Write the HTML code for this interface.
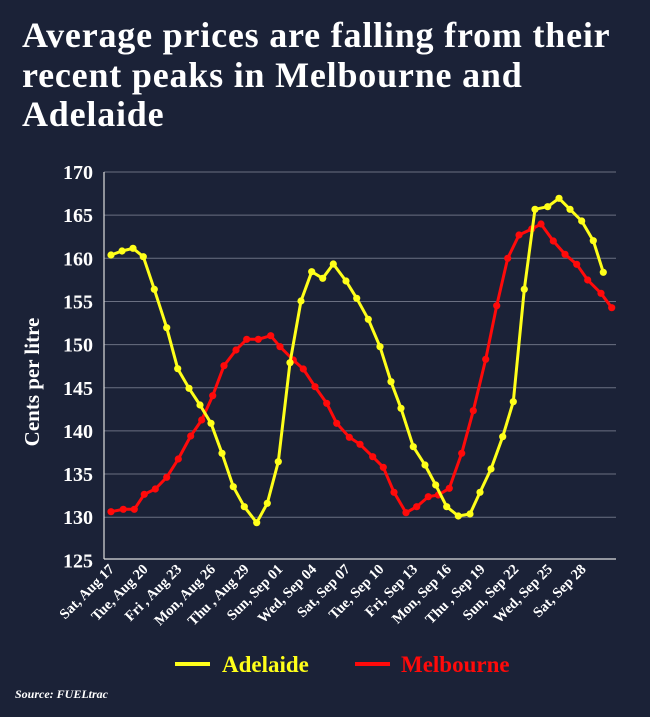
<!DOCTYPE html>
<html><head><meta charset="utf-8"><style>
html,body{margin:0;padding:0;background:#1b2237;}
body{width:650px;height:717px;overflow:hidden;position:relative;font-family:"Liberation Serif",serif;color:#fff;}
h1{position:absolute;left:22px;top:16px;margin:0;font-size:36px;line-height:39.5px;font-weight:bold;letter-spacing:0.8px;width:620px;}
svg{position:absolute;left:0;top:0;}
</style></head><body>
<h1>Average prices are falling from their<br>recent peaks in Melbourne and<br>Adelaide</h1>
<svg id="s" width="650" height="717" xmlns="http://www.w3.org/2000/svg" font-family="Liberation Serif, serif" font-weight="bold"></svg>
<script>
var s=document.getElementById('s');var h='';
function Y(v){return 172+(170-v)*8.63;}
for(var v=125;v<=170;v+=5){var y=Y(v);
 if(v>125)h+='<line x1="104" x2="616" y1="'+y+'" y2="'+y+'" stroke="#6b7082" stroke-width="1"/>';
 h+='<text x="93" y="'+(y+7)+'" fill="#fff" font-size="20" text-anchor="end">'+v+'</text>';}
h+='<line x1="104" x2="104" y1="172" y2="559" stroke="#ddd" stroke-width="1.2"/>';
h+='<line x1="104" x2="616" y1="559" y2="559" stroke="#ddd" stroke-width="1.2"/>';
h+='<text transform="translate(39,382) rotate(-90)" fill="#fff" font-size="21" text-anchor="middle">Cents per litre</text>';
var labs=["Sat, Aug 17","Tue, Aug 20","Fri , Aug 23","Mon, Aug 26","Thu , Aug 29","Sun, Sep 01","Wed, Sep 04","Sat, Sep 07","Tue, Sep 10","Fri, Sep 13","Mon, Sep 16","Thu , Sep 19","Sun, Sep 22","Wed, Sep 25","Sat, Sep 28"];
for(var i=0;i<labs.length;i++){var x=115+i*33.7;
 h+='<text transform="translate('+x+',570) rotate(-45)" fill="#fff" font-size="14.5" text-anchor="end">'+labs[i]+'</text>';}
var A1=[[333,285],[366,273],[399,265],[430,290],[463,388],[500,503],[533,626],[567,685],[600,735],[633,790],[666,880],[700,980],[733,1040],[770,1088],[802,1030],[835,905],[870,608],[903,423],[935,335],[968,355]];
var A2=[[40,312],[78,363],[110,415],[145,478],[180,560],[213,665],[243,745],[280,860],[315,915],[347,975],[380,1040],[415,1068],[450,1062],[480,997],[513,927],[548,830],[580,725],[613,388],[645,148],[683,140],[717,115],[750,148],[785,183],[820,242],[850,337]];
var M1=[[333,1055],[370,1048],[403,1048],[433,1003],[466,987],[500,952],[535,897],[572,828],[605,780],[638,707],[672,617],[708,570],[740,538],[775,538],[812,527],[840,560],[880,600],[910,627],[945,680],[980,730]];
var M2=[[50,790],[88,832],[120,853],[158,890],[190,922],[222,997],[258,1058],[290,1040],[325,1010],[355,1005],[388,985],[425,880],[460,752],[497,598],[530,437],[563,295],[597,225],[635,207],[663,192],[700,243],[735,283],[770,313],[803,360],[843,400],[875,443]];
function pts(a,b){var r=[];a.forEach(function(p){r.push([p[0]/3,160+p[1]/3]);});b.forEach(function(p){r.push([320+p[0]/3,160+p[1]/3]);});return r;}
function series(p,c){var d=p.map(function(q){return q[0].toFixed(1)+','+q[1].toFixed(1);}).join(' ');
 var o='<polyline points="'+d+'" fill="none" stroke="'+c+'" stroke-width="3" stroke-linejoin="round"/>';
 p.forEach(function(q){o+='<circle cx="'+q[0].toFixed(1)+'" cy="'+q[1].toFixed(1)+'" r="3.6" fill="'+c+'"/>';});return o;}
h+=series(pts(M1,M2),'#ff0a0a');
h+=series(pts(A1,A2),'#ffff1a');
h+='<line x1="175" x2="210" y1="664" y2="664" stroke="#ffff1a" stroke-width="4"/>';
h+='<text x="222" y="672" fill="#ffff1a" font-size="23">Adelaide</text>';
h+='<line x1="355" x2="390" y1="664" y2="664" stroke="#ff0a0a" stroke-width="4"/>';
h+='<text x="401" y="672" fill="#ff0a0a" font-size="23">Melbourne</text>';
h+='<text x="15" y="698" fill="#fff" font-size="12" font-style="italic">Source: FUELtrac</text>';
s.innerHTML=h;
</script>
</body></html>
